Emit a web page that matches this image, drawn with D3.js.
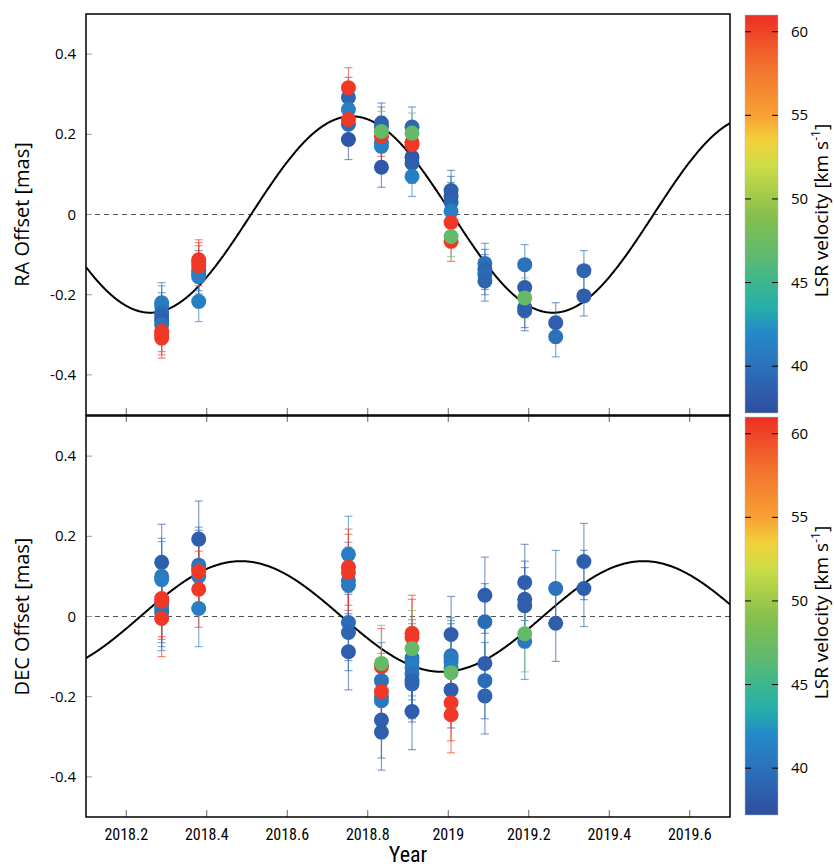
<!DOCTYPE html>
<html>
<head>
<meta charset="utf-8">
<script src="https://cdn.jsdelivr.net/npm/d3@7"></script>
<style>
  body { margin: 0; background: #fff; }
  svg { display: block; font-family: "Open Sans", "DejaVu Sans", sans-serif; }
  .xlab { font-family: "Liberation Sans Narrow", "Roboto Condensed", Roboto, sans-serif; }
</style>
</head>
<body>
<svg id="chart" width="834" height="868"></svg>
<script>
// observing epochs (year)
var epochs = [2018.288, 2018.380, 2018.752, 2018.834, 2018.910, 2019.007, 2019.091, 2019.190, 2019.267, 2019.337];

// RA offsets (mas) per epoch, and the LSR velocity of each spot
var raOffset = [
  [-0.220, -0.228, -0.245, -0.255, -0.265, -0.275, -0.292, -0.300, -0.308],
  [-0.140, -0.148, -0.155, -0.217, -0.113, -0.120, -0.128],
  [0.292, 0.262, 0.225, 0.187, 0.237, 0.316],
  [0.228, 0.218, 0.180, 0.170, 0.118, 0.195, 0.207],
  [0.218, 0.143, 0.128, 0.095, 0.180, 0.174, 0.203],
  [0.060, 0.045, 0.030, 0.008, -0.020, -0.067, -0.055],
  [-0.122, -0.137, -0.150, -0.166],
  [-0.125, -0.182, -0.240, -0.232, -0.208],
  [-0.270, -0.305],
  [-0.140, -0.203]
];
var raVlsr = [
  [41, 40.8, 39.5, 39, 38.5, 40, 60.5, 60.5, 60.5],
  [39, 40, 41, 41, 60.5, 60.5, 60.5],
  [39, 41, 39.5, 38, 60.5, 60.5],
  [38.5, 39, 40.5, 41, 38, 60.5, 47],
  [39, 38, 38.5, 41, 60.5, 60.5, 47],
  [38.5, 38.5, 39, 41, 60.5, 60.5, 47],
  [40, 39, 39.5, 39],
  [40, 38.5, 38.5, 38.5, 47],
  [38.5, 40],
  [39, 38.5]
];
var raErr = [0.05, 0.05, 0.05, 0.05, 0.05, 0.05, 0.05, 0.05, 0.05, 0.05];

// DEC offsets (mas) per epoch, and the LSR velocity of each spot
var decOffset = [
  [0.135, 0.100, 0.092, 0.030, 0.020, 0.010, 0.045, 0.038, -0.005],
  [0.193, 0.128, 0.120, 0.100, 0.020, 0.112, 0.068],
  [0.155, 0.090, 0.078, -0.015, -0.040, -0.088, 0.123, 0.110],
  [-0.160, -0.200, -0.210, -0.258, -0.288, -0.187, -0.125, -0.117],
  [-0.103, -0.113, -0.127, -0.143, -0.160, -0.168, -0.237, -0.042, -0.052, -0.080],
  [-0.045, -0.098, -0.105, -0.113, -0.127, -0.183, -0.215, -0.245, -0.140],
  [0.053, -0.013, -0.117, -0.160, -0.198],
  [0.085, 0.043, 0.027, -0.062, -0.043],
  [0.070, -0.017],
  [0.137, 0.070]
];
var decVlsr = [
  [38.5, 40.5, 41, 40.5, 41, 40, 60.5, 60.5, 60.5],
  [38.5, 40, 40.5, 41, 41, 60.5, 60.5],
  [41, 40.5, 40.5, 39.5, 39, 38.5, 60.5, 60.5],
  [40, 41, 40.5, 38.5, 38.5, 60.5, 60.5, 47],
  [41, 40.5, 41, 40, 39, 39, 38.5, 60.5, 60.5, 47],
  [38.5, 40, 41, 40.5, 41, 38.5, 60.5, 60.5, 47],
  [38.5, 39.5, 38.5, 39.5, 39],
  [38.5, 38.5, 38.5, 40.5, 47],
  [40, 38.5],
  [38.5, 38.5]
];
var decErr = [0.095, 0.095, 0.095, 0.095, 0.095, 0.095, 0.095, 0.095, 0.095, 0.095];

// fitted parallax model: amplitude (mas) and epoch of maximum
var raModel = [0.245, 2018.76];
var decModel = [0.138, 2018.485];

var xTicks = [2018.2, 2018.4, 2018.6, 2018.8, 2019, 2019.2, 2019.4, 2019.6];
var yTicks = [-0.4, -0.2, 0, 0.2, 0.4];
var cbTicks = [40, 45, 50, 55, 60];

// colour map of the velocity bar
var cmapStops = [37.2, 38.5, 40.5, 42, 43.5, 45, 46.5, 49, 52, 53.5, 55, 58, 61];
var cmapColors = ["#2d4f9e", "#2e5eac", "#2a78bf", "#2489c8", "#27aeaa", "#3cb68e", "#5db971", "#86bf4d",
                  "#cddd46", "#f3d03a", "#f7a034", "#f2702e", "#ee2e24"];

var svg = d3.select("#chart");
var x = d3.scaleLinear().domain([2018.1, 2019.7]).range([86, 730]);
var color = d3.scaleLinear().domain(cmapStops).range(cmapColors);

var panels = [
  { off: raOffset, vel: raVlsr, err: raErr, model: raModel, top: 14, bottom: 415, label: "RA Offset [mas]" },
  { off: decOffset, vel: decVlsr, err: decErr, model: decModel, top: 416, bottom: 817, label: "DEC Offset [mas]" }
];

panels.forEach(function(p, pi) {
  var y = d3.scaleLinear().domain([-0.5, 0.5]).range([p.bottom, p.top]);
  var g = svg.append("g");

  g.append("clipPath").attr("id", "clip" + pi)
    .append("rect").attr("x", 86).attr("y", p.top).attr("width", 644).attr("height", p.bottom - p.top);

  var plot = g.append("g").attr("clip-path", "url(#clip" + pi + ")");

  // zero line
  plot.append("line")
    .attr("x1", 86).attr("x2", 730).attr("y1", y(0)).attr("y2", y(0))
    .attr("stroke", "#555").attr("stroke-width", 1).attr("stroke-dasharray", "5,4");

  // model curve
  var ts = d3.range(2018.1, 2019.701, 0.002);
  var line = d3.line()
    .x(function(t) { return x(t); })
    .y(function(t) { return y(p.model[0] * Math.cos(2 * Math.PI * (t - p.model[1]))); });
  plot.append("path").datum(ts).attr("d", line)
    .attr("fill", "none").attr("stroke", "#000").attr("stroke-width", 2);

  // flatten points
  var pts = [];
  epochs.forEach(function(ep, i) {
    p.off[i].forEach(function(v, j) {
      pts.push({ t: ep, v: v, vel: p.vel[i][j], e: p.err[i] });
    });
  });

  // error bars
  var eb = plot.selectAll(".eb").data(pts).enter().append("g")
    .attr("stroke", function(d) { return color(d.vel); })
    .attr("stroke-opacity", 0.6).attr("stroke-width", 1.2);
  eb.append("line")
    .attr("x1", function(d) { return x(d.t); }).attr("x2", function(d) { return x(d.t); })
    .attr("y1", function(d) { return y(d.v - d.e); }).attr("y2", function(d) { return y(d.v + d.e); });
  [-1, 1].forEach(function(s) {
    eb.append("line")
      .attr("x1", function(d) { return x(d.t) - 4; }).attr("x2", function(d) { return x(d.t) + 4; })
      .attr("y1", function(d) { return y(d.v + s * d.e); }).attr("y2", function(d) { return y(d.v + s * d.e); });
  });

  // spots
  plot.selectAll(".pt").data(pts).enter().append("circle")
    .attr("cx", function(d) { return x(d.t); })
    .attr("cy", function(d) { return y(d.v); })
    .attr("r", 7.5)
    .attr("fill", function(d) { return color(d.vel); });

  // y ticks
  yTicks.forEach(function(v) {
    g.append("line").attr("x1", 86).attr("x2", 92).attr("y1", y(v)).attr("y2", y(v))
      .attr("stroke", "#999").attr("stroke-width", 1);
    g.append("text").attr("x", 76).attr("y", y(v) + 5).attr("text-anchor", "end")
      .attr("font-size", 15).text(v === 0 ? "0" : d3.format(".1f")(v).replace("\u2212", "-"));
  });

  // x ticks (inward, from bottom of panel)
  xTicks.forEach(function(t) {
    g.append("line").attr("x1", x(t)).attr("x2", x(t)).attr("y1", p.bottom).attr("y2", p.bottom - 7)
      .attr("stroke", "#666").attr("stroke-width", 1);
    if (pi === 1) {
      g.append("line").attr("x1", x(t)).attr("x2", x(t)).attr("y1", p.top).attr("y2", p.top + 6)
        .attr("stroke", "#666").attr("stroke-width", 1);
    }
  });

  // frame
  g.append("rect").attr("x", 86).attr("y", p.top).attr("width", 644).attr("height", p.bottom - p.top)
    .attr("fill", "none").attr("stroke", "#000").attr("stroke-width", 1.5);

  // axis label
  g.append("text")
    .attr("transform", "translate(29," + ((p.top + p.bottom) / 2) + ") rotate(-90)")
    .attr("text-anchor", "middle").attr("font-size", 20).text(p.label);

  // colour bar
  var cb = d3.scaleLinear().domain([37.2, 61]).range([p.bottom - 2, p.top + 1]);
  var grad = svg.append("defs").append("linearGradient").attr("id", "grad" + pi)
    .attr("x1", 0).attr("x2", 0).attr("y1", 1).attr("y2", 0);
  cmapStops.forEach(function(s, k) {
    grad.append("stop").attr("offset", (s - 37.2) / (61 - 37.2)).attr("stop-color", cmapColors[k]);
  });
  svg.append("rect").attr("x", 745).attr("y", cb(61)).attr("width", 33).attr("height", cb(37.2) - cb(61))
    .attr("fill", "url(#grad" + pi + ")").attr("stroke", "#bbb").attr("stroke-width", 0.5);
  cbTicks.forEach(function(v) {
    svg.append("line").attr("x1", 745).attr("x2", 751).attr("y1", cb(v)).attr("y2", cb(v))
      .attr("stroke", "#000").attr("stroke-width", 1);
    svg.append("line").attr("x1", 772).attr("x2", 778).attr("y1", cb(v)).attr("y2", cb(v))
      .attr("stroke", "#000").attr("stroke-width", 1);
    svg.append("text").attr("x", 791).attr("y", cb(v) + 5).attr("font-size", 15).text(v);
  });
  var lab = svg.append("text")
    .attr("transform", "translate(828," + ((p.top + p.bottom) / 2 - 4) + ") rotate(-90)")
    .attr("text-anchor", "middle").attr("font-size", 19);
  lab.append("tspan").text("LSR velocity [km s");
  lab.append("tspan").attr("font-size", 12).attr("dy", -8).text("-1");
  lab.append("tspan").attr("dy", 8).text("]");
});

// x tick labels and title
xTicks.forEach(function(t) {
  svg.append("text").attr("class", "xlab").attr("x", x(t)).attr("y", 840)
    .attr("text-anchor", "middle").attr("font-size", 16).text(d3.format("")(t));
});
svg.append("text").attr("class", "xlab").attr("x", 408).attr("y", 862)
  .attr("text-anchor", "middle").attr("font-size", 22).text("Year");
</script>
</body>
</html>
